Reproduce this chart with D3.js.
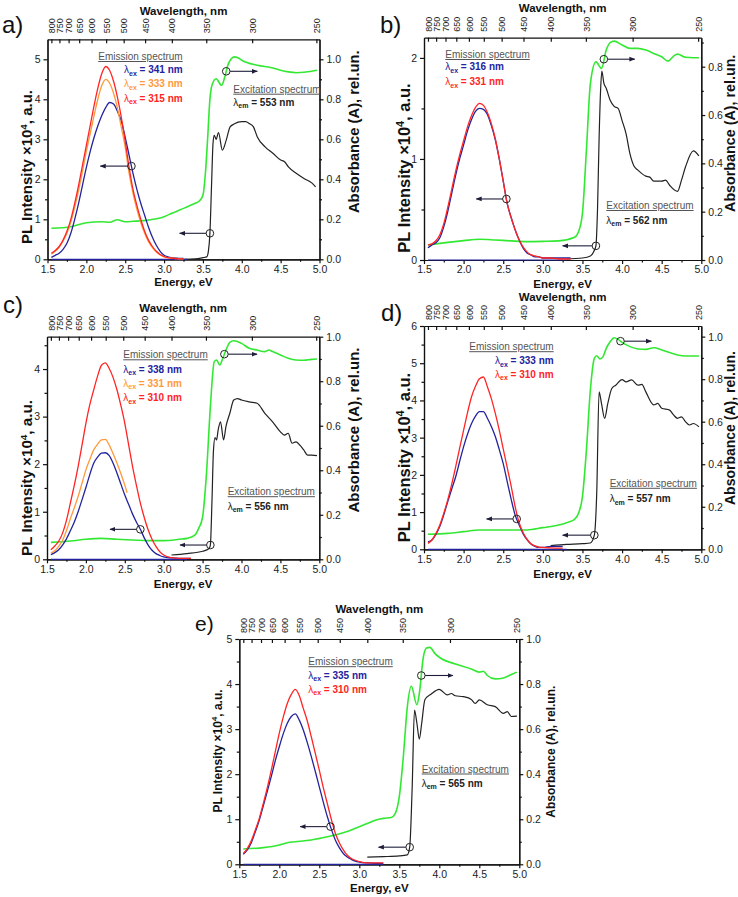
<!DOCTYPE html>
<html><head><meta charset="utf-8">
<script src="https://cdn.jsdelivr.net/npm/d3@7"></script>
<style>
body{margin:0;background:#fff}
svg text{font-family:Arial,"Liberation Sans",sans-serif}
.axis path,.axis line{stroke:#111;stroke-width:1.2}
.axis text{fill:#222;font-size:10.5px}
.top text{font-size:9px}
</style></head><body>
<svg id="c" width="738" height="897"></svg>
<script>
// ---------- shared tick data ----------
const energyTicks = [1.5,2.0,2.5,3.0,3.5,4.0,4.5,5.0];
const energyMinor = [1.75,2.25,2.75,3.25,3.75,4.25,4.75];
const wavelengthTicks = [800,750,700,650,600,550,500,450,400,350,300,250];
const absTicks = [0,0.2,0.4,0.6,0.8,1.0];
const zeroLineE = [1.55,3.3];
const zeroLineV = [0,0];

// ---------- panel a ----------
const a_emE = [1.55,1.6,1.65,1.7,1.75,1.8,1.85,1.9,1.95,2.0,2.05,2.1,2.15,2.2,2.25,2.3,2.35,2.4,2.45,2.5,2.55,2.6,2.65,2.7,2.75,2.8,2.85,2.9,2.95,3.0,3.05,3.1,3.15,3.2,3.25];
const a_blue = [0.05,0.1,0.15,0.25,0.4,0.65,1.0,1.4,1.85,2.3,2.7,3.05,3.35,3.6,3.8,3.92,3.88,3.7,3.45,3.05,2.6,2.15,1.75,1.4,1.1,0.8,0.55,0.35,0.2,0.1,0.06,0.04,0.03,0.02,0.02];
const a_orange = [0.13,0.2,0.3,0.45,0.65,0.93,1.3,1.72,2.2,2.7,3.15,3.6,4.02,4.35,4.5,4.4,4.15,3.78,3.3,2.8,2.15,1.65,1.25,0.92,0.65,0.44,0.29,0.18,0.11,0.06,0.04,0.03,0.02,0.01,0.01];
const a_red = [0.15,0.22,0.32,0.48,0.7,1.0,1.4,1.85,2.35,2.85,3.35,3.85,4.3,4.65,4.82,4.72,4.45,4.05,3.55,2.95,2.3,1.75,1.35,1.0,0.7,0.48,0.32,0.2,0.12,0.07,0.04,0.03,0.02,0.01,0.01];
const a_absE = [1.55,1.8,2.0,2.2,2.3,2.4,2.5,2.6,2.8,3.0,3.1,3.2,3.3,3.4,3.45,3.5,3.53,3.56,3.59,3.62,3.67,3.74,3.78,3.82,3.86,3.9,3.95,4.0,4.2,4.4,4.5,4.6,4.7,4.8,4.9,4.97];
const a_green = [0.155,0.163,0.183,0.188,0.185,0.198,0.188,0.19,0.196,0.213,0.23,0.246,0.263,0.28,0.29,0.32,0.42,0.6,0.8,0.875,0.903,0.87,0.91,0.97,1.0,1.012,1.008,0.995,0.97,0.957,0.945,0.937,0.933,0.935,0.94,0.945];
const a_excE = [3.25,3.4,3.5,3.55,3.57,3.59,3.61,3.63,3.645,3.67,3.7,3.75,3.8,3.85,3.9,4.0,4.05,4.1,4.15,4.2,4.3,4.4,4.5,4.55,4.6,4.7,4.8,4.9,4.95];
const a_black = [0.0,0.01,0.04,0.06,0.2,0.65,1.8,2.9,3.1,3.0,3.17,2.73,2.98,3.31,3.38,3.44,3.44,3.39,3.31,3.06,2.81,2.65,2.48,2.44,2.31,2.15,2.02,1.91,1.81];
const a_lambdaEx = [341,333,315];
const a_lambdaEm = 553;
const a_arrowFrom = [2.58,3.59,3.80];
const a_arrowTo = [2.18,3.2,4.2];

// ---------- panel b ----------
const b_emE = [1.55,1.6,1.65,1.7,1.75,1.8,1.85,1.9,1.95,2.0,2.05,2.1,2.15,2.2,2.25,2.3,2.35,2.4,2.45,2.5,2.55,2.6,2.65,2.7,2.75,2.8,2.85,2.9,2.95,3.0,3.1,3.2,3.35];
const b_blue = [0.12,0.15,0.17,0.22,0.33,0.48,0.66,0.84,1.0,1.14,1.28,1.39,1.47,1.5,1.49,1.44,1.33,1.19,1.0,0.78,0.56,0.42,0.3,0.2,0.12,0.07,0.05,0.03,0.03,0.02,0.02,0.02,0.02];
const b_red = [0.15,0.16,0.19,0.25,0.36,0.52,0.7,0.88,1.04,1.18,1.32,1.43,1.51,1.55,1.53,1.46,1.35,1.2,1.0,0.78,0.56,0.42,0.3,0.2,0.13,0.08,0.05,0.04,0.03,0.02,0.02,0.01,0.01];
const b_absE = [1.55,1.8,2.0,2.2,2.4,2.6,2.8,3.0,3.2,3.4,3.45,3.5,3.55,3.6,3.67,3.74,3.8,3.85,3.9,4.0,4.1,4.2,4.3,4.4,4.5,4.58,4.65,4.7,4.8,4.9,4.97];
const b_green = [0.062,0.073,0.08,0.086,0.083,0.079,0.076,0.077,0.079,0.094,0.117,0.193,0.455,0.73,0.82,0.793,0.869,0.9,0.906,0.89,0.876,0.876,0.869,0.855,0.841,0.823,0.844,0.852,0.839,0.837,0.837];
const b_excE = [3.3,3.5,3.6,3.64,3.67,3.69,3.71,3.73,3.745,3.77,3.8,3.85,3.9,3.95,4.0,4.05,4.1,4.15,4.2,4.3,4.35,4.4,4.5,4.55,4.6,4.7,4.75,4.8,4.9,4.97];
const b_black = [0.01,0.02,0.04,0.08,0.14,0.5,1.2,1.7,1.87,1.75,1.7,1.58,1.52,1.5,1.38,1.25,1.05,0.93,0.89,0.83,0.82,0.78,0.78,0.79,0.74,0.68,0.79,0.92,1.08,1.03];
const b_lambdaEx = [316,331];
const b_lambdaEm = 562;
const b_arrowFrom = [2.54,3.67,3.77];
const b_arrowTo = [2.16,3.25,4.16];

// ---------- panel c ----------
const c_emE = [1.55,1.6,1.65,1.7,1.75,1.8,1.85,1.9,1.95,2.0,2.05,2.1,2.15,2.2,2.25,2.3,2.35,2.4,2.45,2.5,2.55,2.6,2.65,2.7,2.75,2.8,2.85,2.9,2.95,3.0,3.1,3.2,3.35];
const c_blue = [0.1,0.14,0.2,0.3,0.43,0.6,0.78,1.0,1.25,1.51,1.78,2.02,2.15,2.23,2.24,2.18,2.02,1.81,1.58,1.35,1.15,0.95,0.78,0.63,0.45,0.3,0.19,0.12,0.08,0.05,0.03,0.02,0.02];
const c_orangeE = [1.55,1.6,1.65,1.7,1.75,1.8,1.85,1.9,1.95,2.0,2.05,2.1,2.15,2.2,2.25,2.3,2.35,2.4,2.45,2.5,2.53];
const c_orange = [0.13,0.18,0.27,0.4,0.6,0.85,1.08,1.32,1.6,1.88,2.1,2.3,2.42,2.51,2.52,2.4,2.22,2.02,1.8,1.56,1.4];
const c_red = [0.2,0.28,0.38,0.55,0.82,1.18,1.55,1.95,2.4,2.86,3.25,3.56,3.85,4.08,4.13,4.01,3.82,3.56,3.23,2.86,2.4,1.95,1.55,1.18,0.88,0.62,0.42,0.27,0.16,0.09,0.035,0.02,0.02];
const c_absE = [1.55,1.8,2.0,2.2,2.4,2.6,2.8,3.0,3.2,3.3,3.4,3.45,3.5,3.55,3.6,3.65,3.68,3.72,3.76,3.8,3.85,3.9,4.0,4.1,4.2,4.3,4.35,4.4,4.5,4.6,4.7,4.8,4.9,4.97];
const c_green = [0.076,0.082,0.09,0.094,0.09,0.087,0.084,0.084,0.09,0.094,0.109,0.139,0.19,0.386,0.686,0.888,0.895,0.873,0.903,0.94,0.975,0.982,0.97,0.948,0.94,0.933,0.94,0.933,0.918,0.903,0.895,0.894,0.898,0.9];
const c_excE = [3.1,3.3,3.5,3.58,3.6,3.62,3.64,3.66,3.68,3.7,3.73,3.77,3.8,3.85,3.9,3.95,4.0,4.1,4.2,4.3,4.4,4.5,4.55,4.6,4.65,4.7,4.75,4.8,4.85,4.9,4.97];
const c_black = [0.09,0.12,0.17,0.22,0.3,1.2,2.3,2.56,2.51,2.72,2.89,2.51,2.79,3.07,3.35,3.38,3.35,3.31,3.28,3.07,2.89,2.68,2.61,2.65,2.44,2.47,2.4,2.3,2.19,2.19,2.18];
const c_lambdaEx = [338,331,310];
const c_lambdaEm = 556;
const c_arrowFrom = [2.70,3.60,3.78];
const c_arrowTo = [2.31,3.21,4.2];

// ---------- panel d ----------
const d_emE = [1.55,1.6,1.65,1.7,1.75,1.8,1.85,1.9,1.95,2.0,2.05,2.1,2.15,2.2,2.25,2.3,2.35,2.4,2.45,2.5,2.55,2.6,2.65,2.7,2.75,2.8,2.85,2.9,2.95,3.0,3.1,3.25];
const d_blue = [0.2,0.25,0.4,0.62,0.93,1.28,1.62,1.95,2.36,2.76,3.1,3.38,3.58,3.7,3.7,3.52,3.3,3.03,2.68,2.3,1.82,1.35,0.92,0.66,0.42,0.26,0.14,0.08,0.05,0.05,0.08,0.08];
const d_red = [0.16,0.25,0.42,0.65,0.97,1.33,1.75,2.22,2.72,3.2,3.68,4.1,4.38,4.58,4.63,4.37,4.05,3.65,3.2,2.7,2.2,1.7,1.15,0.72,0.45,0.27,0.15,0.09,0.06,0.05,0.04,0.03];
const d_absE = [1.55,1.8,2.0,2.2,2.4,2.6,2.8,3.0,3.2,3.3,3.4,3.45,3.5,3.55,3.6,3.65,3.68,3.72,3.76,3.8,3.85,3.9,3.95,4.0,4.1,4.2,4.3,4.4,4.5,4.6,4.7,4.8,4.97];
const d_green = [0.071,0.075,0.083,0.091,0.091,0.091,0.091,0.102,0.114,0.125,0.141,0.169,0.248,0.467,0.75,0.898,0.91,0.895,0.906,0.945,0.976,0.995,0.987,0.973,0.953,0.942,0.94,0.948,0.937,0.925,0.914,0.909,0.909];
const d_excE = [3.1,3.3,3.5,3.6,3.65,3.68,3.71,3.74,3.78,3.82,3.87,3.92,4.0,4.05,4.12,4.2,4.25,4.3,4.4,4.45,4.5,4.6,4.65,4.7,4.75,4.8,4.85,4.9,4.97];
const d_black = [0.1,0.13,0.15,0.17,0.38,1.5,4.23,3.92,3.52,3.92,4.32,4.41,4.56,4.5,4.55,4.41,4.43,4.23,3.88,3.92,3.79,3.74,3.61,3.52,3.56,3.43,3.34,3.38,3.29];
const d_lambdaEx = [333,310];
const d_lambdaEm = 557;
const d_arrowFrom = [2.67,3.65,3.98];
const d_arrowTo = [2.29,3.25,4.37];

// ---------- panel e ----------
const e_emE = [1.55,1.6,1.65,1.7,1.75,1.8,1.85,1.9,1.95,2.0,2.05,2.1,2.15,2.2,2.25,2.3,2.35,2.4,2.45,2.5,2.55,2.6,2.65,2.7,2.75,2.8,2.85,2.9,2.95,3.0,3.1,3.2,3.3];
const e_blue = [0.22,0.32,0.48,0.72,0.98,1.3,1.62,1.95,2.3,2.61,2.9,3.13,3.28,3.34,3.2,2.98,2.7,2.39,2.06,1.72,1.38,1.06,0.78,0.54,0.37,0.24,0.16,0.11,0.07,0.05,0.03,0.02,0.02];
const e_red = [0.24,0.35,0.52,0.76,1.02,1.35,1.7,2.09,2.5,2.91,3.27,3.57,3.77,3.88,3.74,3.46,3.18,2.83,2.46,2.09,1.7,1.35,1.0,0.69,0.48,0.32,0.2,0.13,0.09,0.06,0.03,0.03,0.03];
const e_absE = [1.55,1.8,2.0,2.1,2.2,2.4,2.6,2.8,3.0,3.1,3.2,3.3,3.4,3.45,3.5,3.55,3.6,3.65,3.72,3.75,3.8,3.84,3.88,3.95,4.0,4.2,4.4,4.5,4.55,4.6,4.7,4.8,4.9,4.97];
const e_green = [0.068,0.074,0.086,0.096,0.1,0.108,0.122,0.14,0.167,0.181,0.196,0.204,0.208,0.226,0.3,0.476,0.698,0.79,0.708,0.757,0.919,0.96,0.963,0.934,0.919,0.889,0.867,0.853,0.857,0.838,0.823,0.827,0.842,0.853];
const e_excE = [3.1,3.3,3.5,3.6,3.63,3.66,3.69,3.72,3.75,3.78,3.82,3.9,4.0,4.1,4.15,4.2,4.3,4.4,4.45,4.5,4.6,4.7,4.8,4.85,4.9,4.97];
const e_black = [0.16,0.17,0.185,0.21,0.38,1.65,3.42,3.13,2.78,3.13,3.65,3.78,3.88,3.76,3.79,3.74,3.72,3.66,3.57,3.65,3.54,3.5,3.35,3.39,3.28,3.29];
const e_lambdaEx = [335,310];
const e_lambdaEm = 565;
const e_arrowFrom = [2.64,3.63,3.775];
const e_arrowTo = [2.26,3.24,4.17];

// ---------- colours ----------
const COL = {blue:"#23239e", orange:"#ff9a3c", red:"#ff2525", green:"#33e833", black:"#222222", arrow:"#1e1e3a"};

// ---------- layout (positions only) ----------
const panels = [
 {tag:"a)", L:47.5, R:319.5, T:39.3, B:259.3, yMax:5.5, y2Max:1.1, yTicks:[0,1,2,3,4,5], y2Ticks:absTicks,
  tagPos:[2,33,24], xT:286, wT:15, yT:[32.3,167,15], y2T:[359,131.7,14.8],
  em:{x:182.7, anchor:"end", ys:[60,73.3,87.3,101.7]}, ex:{x:233.3, ys:[92.7,105.5]},
  series:[["blue",a_blue],["orange",a_orange],["red",a_red]], seriesE:[a_emE,a_emE,a_emE],
  absE:a_absE, green:a_green, excE:a_excE, black:a_black, lex:a_lambdaEx, lexCol:["blue","orange","red"], lem:a_lambdaEm,
  from:a_arrowFrom, to:a_arrowTo},
 {tag:"b)", L:424, R:701.3, T:37.7, B:260, yMax:2.2, y2Max:0.92, yTicks:[0,1,2], y2Ticks:[0,0.2,0.4,0.6,0.8],
  tagPos:[380,33,24], xT:287.5, wT:11.6, yT:[410,168,16.5], y2T:[735,133.3,14.3],
  em:{x:445.3, anchor:"start", ys:[58,70,85]}, ex:{x:606.3, ys:[209,223.5]},
  series:[["blue",b_blue],["red",b_red]], seriesE:[b_emE,b_emE],
  absE:b_absE, green:b_green, excE:b_excE, black:b_black, lex:b_lambdaEx, lexCol:["blue","red"], lem:b_lambdaEm,
  from:b_arrowFrom, to:b_arrowTo},
 {tag:"c)", L:47, R:319.3, T:336.7, B:559.3, yMax:4.68, y2Max:1.0, yTicks:[0,1,2,3,4], y2Ticks:absTicks,
  tagPos:[3,313,24], xT:587.5, wT:311.6, yT:[32.3,478,15.2], y2T:[359,430,15],
  em:{x:123.3, anchor:"start", ys:[358.3,372.7,386.7,401]}, ex:{x:227.7, ys:[495.2,509.5]},
  series:[["blue",c_blue],["orange",c_orange],["red",c_red]], seriesE:[c_emE,c_orangeE,c_emE],
  absE:c_absE, green:c_green, excE:c_excE, black:c_black, lex:c_lambdaEx, lexCol:["blue","orange","red"], lem:c_lambdaEm,
  from:c_arrowFrom, to:c_arrowTo},
 {tag:"d)", L:424, R:701.3, T:326, B:549.3, yMax:6, y2Max:1.05, yTicks:[0,1,2,3,4,5,6], y2Ticks:absTicks,
  tagPos:[381,321,24], xT:577.5, wT:300.5, yT:[410,457.5,16.5], y2T:[735,428,14],
  em:{x:553.7, anchor:"end", ys:[350.2,364.2,377.8]}, ex:{x:609.7, ys:[486.8,502.2]},
  series:[["blue",d_blue],["red",d_red]], seriesE:[d_emE,d_emE],
  absE:d_absE, green:d_green, excE:d_excE, black:d_black, lex:d_lambdaEx, lexCol:["blue","red"], lem:d_lambdaEm,
  from:d_arrowFrom, to:d_arrowTo},
 {tag:"e)", L:239.3, R:519.3, T:639, B:864.3, yMax:5, y2Max:1.0, yTicks:[0,1,2,3,4,5], y2Ticks:absTicks,
  tagPos:[195,631,21], xT:891.5, wT:613.3, yT:[222,751,12], y2T:[555,751.7,12],
  em:{x:308.3, anchor:"start", ys:[665.2,678.5,692.8]}, ex:{x:421.7, ys:[772.5,786.8]},
  series:[["blue",e_blue],["red",e_red]], seriesE:[e_emE,e_emE],
  absE:e_absE, green:e_green, excE:e_excE, black:e_black, lex:e_lambdaEx, lexCol:["blue","red"], lem:e_lambdaEm,
  from:e_arrowFrom, to:e_arrowTo}
];

const svg = d3.select("#c");
svg.append("defs").append("marker").attr("id","ah").attr("viewBox","0 0 10 10")
  .attr("refX",9).attr("refY",5).attr("markerWidth",6).attr("markerHeight",6)
  .attr("markerUnits","userSpaceOnUse").attr("orient","auto")
  .append("path").attr("d","M0,1L10,5L0,9z").attr("fill",COL.arrow);

function interp(Es, Vs, e){
  const i = d3.bisectLeft(Es, e);
  if (i <= 0) return Vs[0];
  if (i >= Es.length) return Vs[Vs.length-1];
  const t = (e - Es[i-1]) / (Es[i] - Es[i-1]);
  return Vs[i-1] + t*(Vs[i]-Vs[i-1]);
}

function lambdaLine(sel, x, y, anchor, sub, value, color){
  const t = sel.append("text").attr("x",x).attr("y",y).attr("text-anchor",anchor)
    .attr("fill",color).attr("font-size","10px");
  t.append("tspan").text("λ");
  t.append("tspan").attr("dy",2.5).attr("font-size","7px").attr("font-weight","bold").text(sub);
  t.append("tspan").attr("dy",-2.5).attr("font-weight","bold").text(" = " + value + " nm");
}

panels.forEach(p => {
  const x = d3.scaleLinear().domain([1.5,5.0]).range([p.L,p.R]);
  const y = d3.scaleLinear().domain([0,p.yMax]).range([p.B,p.T]);
  const y2 = d3.scaleLinear().domain([0,p.y2Max]).range([p.B,p.T]);
  const g = svg.append("g");

  // axes
  g.append("g").attr("class","axis").attr("transform",`translate(0,${p.B})`)
    .call(d3.axisBottom(x).tickValues(energyMinor).tickFormat("").tickSize(2.5).tickSizeOuter(0));
  g.append("g").attr("class","axis").attr("transform",`translate(0,${p.B})`)
    .call(d3.axisBottom(x).tickValues(energyTicks).tickFormat(d3.format(".1f")).tickSize(4).tickPadding(2).tickSizeOuter(0));
  const topAx = g.append("g").attr("class","axis top").attr("transform",`translate(0,${p.T})`)
    .call(d3.axisTop(x).tickValues(wavelengthTicks.map(w => 1240/w)).tickFormat((d,i) => wavelengthTicks[i]).tickSize(-4).tickSizeOuter(0));
  topAx.selectAll("text").attr("transform","rotate(-90)").attr("x",6).attr("y",0).attr("dy","0.35em").attr("text-anchor","start");
  const yMinor = d3.range(0.5, p.yMax, 1);
  g.append("g").attr("class","axis").attr("transform",`translate(${p.L},0)`)
    .call(d3.axisLeft(y).tickValues(yMinor).tickFormat("").tickSize(2.5).tickSizeOuter(0));
  g.append("g").attr("class","axis").attr("transform",`translate(${p.L},0)`)
    .call(d3.axisLeft(y).tickValues(p.yTicks).tickFormat(d3.format("d")).tickSize(4).tickPadding(3).tickSizeOuter(0));
  const y2Minor = d3.range(0.1, p.y2Max, 0.2);
  g.append("g").attr("class","axis").attr("transform",`translate(${p.R},0)`)
    .call(d3.axisRight(y2).tickValues(y2Minor).tickFormat("").tickSize(2.5).tickSizeOuter(0));
  g.append("g").attr("class","axis").attr("transform",`translate(${p.R},0)`)
    .call(d3.axisRight(y2).tickValues(p.y2Ticks).tickFormat(d3.format(".1f")).tickSize(4).tickPadding(3).tickSizeOuter(0));

  const line = (Es, sc) => d3.line().x((d,i) => x(Es[i])).y(d => sc(d)).curve(d3.curveMonotoneX);

  // absorbance (right axis)
  g.append("path").datum(p.green).attr("d", line(p.absE, y2)).attr("fill","none")
    .attr("stroke",COL.green).attr("stroke-width",1.6);
  // excitation (left axis)
  g.append("path").datum(p.black).attr("d", line(p.excE, y)).attr("fill","none")
    .attr("stroke",COL.black).attr("stroke-width",1.2);
  // zero line
  g.append("path").datum(zeroLineV).attr("d", line(zeroLineE, y)).attr("fill","none")
    .attr("stroke",COL.blue).attr("stroke-width",1.2);
  // emission
  p.series.forEach(([c, vals], k) => {
    g.append("path").datum(vals).attr("d", line(p.seriesE[k], y)).attr("fill","none")
      .attr("stroke",COL[c]).attr("stroke-width",1.3);
  });

  // markers + arrows
  const targets = [
    {Es:p.seriesE[0], Vs:p.series[0][1], sc:y},
    {Es:p.excE, Vs:p.black, sc:y},
    {Es:p.absE, Vs:p.green, sc:y2}
  ];
  targets.forEach((tg, k) => {
    const cx = x(p.from[k]), cy = tg.sc(interp(tg.Es, tg.Vs, p.from[k]));
    const tx = x(p.to[k]);
    const r = 3.8, dir = tx > cx ? 1 : -1;
    g.append("line").attr("x1",cx + dir*r).attr("y1",cy).attr("x2",tx).attr("y2",cy)
      .attr("stroke",COL.arrow).attr("stroke-width",1.1).attr("marker-end","url(#ah)");
    g.append("circle").attr("cx",cx).attr("cy",cy).attr("r",r).attr("fill","none")
      .attr("stroke","#222").attr("stroke-width",1);
  });

  // legends
  g.append("text").attr("x",p.em.x).attr("y",p.em.ys[0]).attr("text-anchor",p.em.anchor)
    .attr("font-size","10px").attr("fill","#555").attr("text-decoration","underline").text("Emission spectrum");
  p.lex.forEach((v,i) => lambdaLine(g, p.em.x, p.em.ys[i+1], p.em.anchor, "ex", v, COL[p.lexCol[i]]));
  g.append("text").attr("x",p.ex.x).attr("y",p.ex.ys[0]).attr("font-size","10px")
    .attr("fill","#555").attr("text-decoration","underline").text("Excitation spectrum");
  lambdaLine(g, p.ex.x, p.ex.ys[1], "start", "em", p.lem, "#222");

  // titles
  const cxm = (p.L + p.R)/2;
  g.append("text").attr("x",cxm).attr("y",p.wT).attr("text-anchor","middle").attr("font-weight","bold")
    .attr("font-size","11.5px").attr("fill","#111").text("Wavelength, nm");
  g.append("text").attr("x",cxm).attr("y",p.xT).attr("text-anchor","middle").attr("font-weight","bold")
    .attr("font-size","11.5px").attr("fill","#111").text("Energy, eV");
  const yl = g.append("text").attr("transform",`translate(${p.yT[0]},${p.yT[1]}) rotate(-90)`)
    .attr("text-anchor","middle").attr("font-weight","bold").attr("font-size",p.yT[2]+"px").attr("fill","#111");
  yl.append("tspan").text("PL Intensity ×10");
  yl.append("tspan").attr("dy",-p.yT[2]*0.38).attr("font-size",(p.yT[2]*0.65)+"px").text("4");
  yl.append("tspan").attr("dy",p.yT[2]*0.38).text(", a.u.");
  g.append("text").attr("transform",`translate(${p.y2T[0]},${p.y2T[1]}) rotate(-90)`)
    .attr("text-anchor","middle").attr("font-weight","bold").attr("font-size",p.y2T[2]+"px").attr("fill","#111")
    .text("Absorbance (A), rel.un.");
  g.append("text").attr("x",p.tagPos[0]).attr("y",p.tagPos[1]).attr("font-family","Lato, 'Open Sans', sans-serif")
    .attr("font-size",p.tagPos[2]+"px").attr("fill","#111").text(p.tag);
});
</script>
</body></html>
